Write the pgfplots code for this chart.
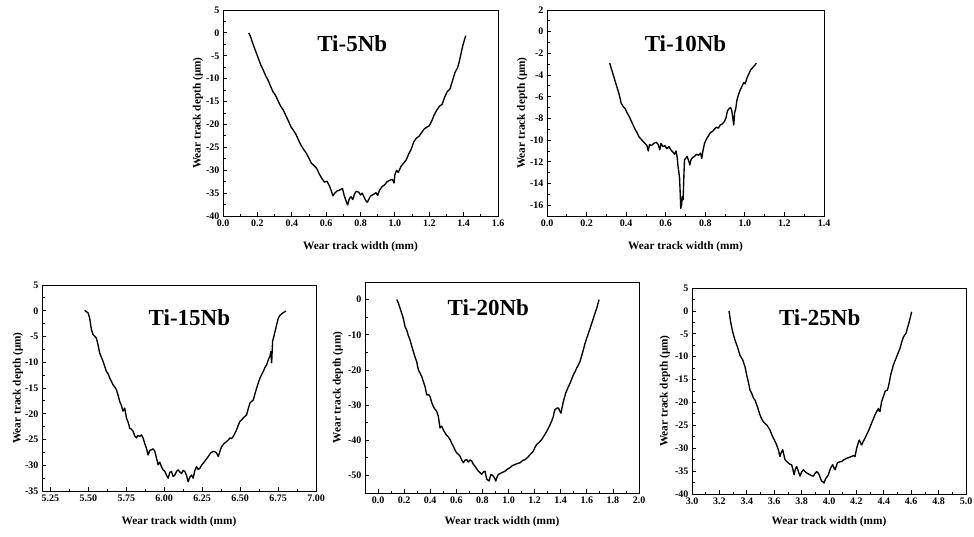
\documentclass[border=0pt]{standalone}
\usepackage{fontspec}
\setmainfont{Liberation Serif}
\usepackage{pgfplots}
\pgfplotsset{compat=1.18}

\pgfplotsset{
  wear/.style={
    scale only axis,
    anchor=south west,
    axis line style={line width=1pt},
    tick pos=left,
    tick align=inside,
    major tick length=4pt,
    minor tick length=2.5pt,
    every tick/.style={black, line width=0.8pt},
    minor tick num=1,
    tick label style={font=\fontsize{10}{11}\selectfont\bfseries},
    /pgf/number format/assume math mode=true,
    yticklabel style={/pgf/number format/fixed},
    xticklabel style={/pgf/number format/fixed, /pgf/number format/fixed zerofill, /pgf/number format/precision=1},
    label style={font=\fontsize{11.3}{12}\selectfont\bfseries},
    xlabel={Wear track width (mm)},
    ylabel={Wear track depth (μm)},
    xlabel style={at={(axis description cs:0.5,0)}, anchor=center, yshift=-31pt},
    every axis plot post/.append style={black, line width=1.35pt, line join=round, mark=none},
  },
}
\tikzset{ttl/.style={font=\fontsize{23}{24}\selectfont\bfseries}}

\begin{document}
\begin{tikzpicture}
\useasboundingbox (0,0) rectangle (974pt,-536pt);

% Ti-5Nb
\begin{axis}[wear, at={(223pt,-216pt)}, width=275pt, height=206pt,
  xmin=0, xmax=1.6, ymin=-40, ymax=5,
  xtick={0,0.2,...,1.6}, ytick={-40,-35,...,5},
  ylabel style={at={(axis description cs:-0.091,0.5)}, anchor=center}]
\addplot coordinates {
(0.150,0.0) (0.160,-0.8) (0.175,-2.5) (0.190,-4.0) (0.205,-5.5) (0.220,-7.0)
(0.235,-8.2) (0.250,-9.5) (0.262,-10.3) (0.275,-11.5) (0.290,-12.8) (0.305,-13.6)
(0.320,-14.8) (0.335,-16.0) (0.350,-16.8) (0.365,-18.0) (0.380,-19.2) (0.395,-20.5)
(0.410,-21.3) (0.425,-22.2) (0.440,-23.5) (0.455,-24.6) (0.470,-25.5) (0.485,-26.3)
(0.500,-27.4) (0.515,-28.5) (0.530,-29.0) (0.545,-29.6) (0.560,-30.8) (0.575,-31.8)
(0.590,-32.6) (0.605,-32.4) (0.620,-33.5) (0.630,-34.5) (0.640,-35.6) (0.650,-35.0)
(0.665,-34.5) (0.680,-34.3) (0.695,-34.0) (0.705,-35.5) (0.715,-36.6) (0.725,-37.6)
(0.735,-36.2) (0.745,-35.8) (0.755,-36.4) (0.765,-35.2) (0.775,-34.6) (0.790,-34.8)
(0.800,-35.4) (0.810,-35.0) (0.820,-35.8) (0.830,-36.6) (0.840,-37.0) (0.850,-36.2)
(0.860,-35.6) (0.875,-35.3) (0.890,-34.9) (0.900,-35.5) (0.910,-34.4) (0.925,-33.6)
(0.940,-33.2) (0.955,-32.5) (0.970,-32.2) (0.985,-32.0) (0.995,-32.8) (1.000,-31.0)
(1.010,-30.0) (1.020,-30.5) (1.035,-29.2) (1.050,-28.5) (1.065,-27.8) (1.080,-26.5)
(1.095,-25.4) (1.110,-23.8) (1.125,-23.0) (1.140,-22.6) (1.155,-21.8) (1.170,-21.0)
(1.185,-20.6) (1.200,-20.3) (1.215,-19.2) (1.230,-17.8) (1.245,-16.8) (1.260,-16.0)
(1.275,-15.6) (1.290,-14.0) (1.305,-12.8) (1.320,-12.3) (1.335,-10.5) (1.350,-8.6)
(1.365,-7.6) (1.375,-6.2) (1.385,-4.5) (1.395,-2.8) (1.405,-1.5) (1.412,-0.6)
};
\node[ttl] at (rel axis cs:0.47,0.836) {Ti-5Nb};
\end{axis}

% Ti-10Nb
\begin{axis}[wear, at={(547pt,-216pt)}, width=277pt, height=206pt,
  xmin=0, xmax=1.4, ymin=-17, ymax=2,
  xtick={0,0.2,...,1.4}, ytick={-16,-14,...,2},
  ylabel style={at={(axis description cs:-0.09,0.5)}, anchor=center}]
\addplot coordinates {
(0.317,-2.9) (0.325,-3.4) (0.335,-4.0) (0.345,-4.6) (0.355,-5.2) (0.365,-5.8)
(0.375,-6.6) (0.385,-6.9) (0.395,-7.1) (0.405,-7.5) (0.415,-7.8) (0.425,-8.2)
(0.435,-8.6) (0.445,-9.0) (0.455,-9.3) (0.465,-9.7) (0.475,-9.9) (0.485,-10.1)
(0.495,-10.3) (0.505,-10.5) (0.512,-11.0) (0.518,-10.4) (0.528,-10.5) (0.540,-10.3)
(0.552,-10.2) (0.562,-10.4) (0.570,-10.9) (0.576,-10.3) (0.586,-10.6) (0.596,-10.5)
(0.606,-10.8) (0.616,-10.6) (0.626,-10.9) (0.636,-11.1) (0.645,-11.3) (0.652,-11.0)
(0.658,-11.6) (0.662,-12.4) (0.666,-12.9) (0.670,-13.5) (0.673,-14.8) (0.676,-16.3)
(0.680,-16.0) (0.684,-15.2) (0.688,-15.5) (0.692,-13.2) (0.695,-11.8) (0.700,-11.7)
(0.708,-11.5) (0.716,-11.9) (0.722,-12.3) (0.728,-11.8) (0.736,-11.6) (0.746,-11.5)
(0.756,-11.3) (0.766,-11.4) (0.776,-11.2) (0.782,-11.7) (0.788,-11.0) (0.796,-10.3)
(0.806,-9.9) (0.816,-9.6) (0.826,-9.3) (0.836,-9.2) (0.846,-9.0) (0.856,-8.8)
(0.866,-8.9) (0.876,-8.6) (0.886,-8.5) (0.896,-8.3) (0.904,-8.0) (0.912,-7.3)
(0.920,-7.1) (0.928,-7.0) (0.934,-7.3) (0.940,-8.1) (0.944,-8.6) (0.948,-7.5)
(0.954,-7.1) (0.960,-6.3) (0.968,-5.8) (0.976,-5.4) (0.986,-5.0) (0.994,-4.7)
(1.002,-4.8) (1.010,-4.3) (1.020,-3.9) (1.030,-3.5) (1.040,-3.3) (1.050,-3.1)
(1.058,-2.9)
};
\node[ttl] at (rel axis cs:0.50,0.836) {Ti-10Nb};
\end{axis}

% Ti-15Nb
\begin{axis}[wear, at={(42pt,-491pt)}, width=274pt, height=206pt,
  xmin=5.195, xmax=7.0, ymin=-35, ymax=5,
  xtick={5.25,5.5,5.75,6.0,6.25,6.5,6.75,7.0}, ytick={-35,-30,...,5},
  xticklabel style={/pgf/number format/precision=2},
  ylabel style={at={(axis description cs:-0.088,0.5)}, anchor=center}]
\addplot coordinates {
(5.476,0.06) (5.498,-0.4) (5.509,-1.4) (5.520,-3.6) (5.531,-4.6) (5.553,-5.3)
(5.564,-6.6) (5.575,-8.2) (5.597,-9.8) (5.619,-11.75) (5.630,-12.2) (5.641,-13.05)
(5.663,-14.35) (5.685,-15.3) (5.696,-16.4) (5.707,-17.6) (5.718,-18.4) (5.729,-19.5)
(5.740,-18.9) (5.751,-20.8) (5.762,-21.6) (5.773,-22.8) (5.784,-23.0) (5.795,-23.4)
(5.806,-24.3) (5.817,-24.7) (5.828,-24.2) (5.839,-24.4) (5.850,-24.1) (5.861,-24.7)
(5.872,-25.8) (5.883,-26.7) (5.894,-28.0) (5.905,-27.1) (5.916,-27.0) (5.927,-26.8)
(5.938,-27.3) (5.949,-28.6) (5.960,-29.9) (5.971,-29.4) (5.982,-30.3) (5.993,-30.9)
(6.004,-31.2) (6.015,-31.9) (6.026,-32.5) (6.037,-31.4) (6.048,-31.2) (6.059,-32.2)
(6.070,-31.9) (6.081,-31.2) (6.092,-30.9) (6.103,-31.3) (6.114,-31.6) (6.125,-31.0)
(6.136,-31.2) (6.147,-32.0) (6.158,-33.2) (6.169,-32.3) (6.180,-31.9) (6.191,-32.5)
(6.202,-31.0) (6.213,-30.3) (6.224,-30.8) (6.235,-30.6) (6.246,-30.0) (6.257,-29.6)
(6.273,-29.0) (6.290,-28.3) (6.306,-27.6) (6.323,-27.3) (6.334,-27.4) (6.345,-27.6)
(6.356,-28.3) (6.367,-27.3) (6.378,-26.4) (6.394,-25.8) (6.411,-25.4) (6.422,-25.1)
(6.433,-24.7) (6.444,-24.8) (6.455,-24.4) (6.466,-23.8) (6.477,-23.1) (6.488,-22.2)
(6.499,-21.5) (6.510,-21.2) (6.521,-20.8) (6.532,-20.5) (6.543,-20.2) (6.554,-19.0)
(6.565,-17.9) (6.576,-17.6) (6.587,-17.3) (6.598,-16.1) (6.609,-15.0) (6.620,-14.0)
(6.631,-13.05) (6.642,-12.4) (6.653,-11.75) (6.664,-11.0) (6.675,-10.5) (6.686,-9.5)
(6.697,-8.8) (6.702,-7.9) (6.708,-10.1) (6.714,-5.9) (6.723,-4.9) (6.736,-3.3)
(6.752,-1.4) (6.763,-0.9) (6.774,-0.6) (6.788,-0.3) (6.802,-0.06)
};
\node[ttl] at (rel axis cs:0.538,0.84) {Ti-15Nb};
\end{axis}

% Ti-20Nb
\begin{axis}[wear, at={(365pt,-493pt)}, width=274pt, height=211pt,
  xmin=-0.1, xmax=2.0, ymin=-55, ymax=5,
  xtick={0,0.2,...,2.0}, ytick={-50,-40,...,0},
  xlabel style={yshift=2pt},
  ylabel style={at={(axis description cs:-0.099,0.5)}, anchor=center}]
\addplot coordinates {
(0.143,0.0) (0.156,-1.0) (0.169,-2.5) (0.182,-4.0) (0.194,-5.4) (0.207,-7.7)
(0.220,-8.7) (0.232,-10.2) (0.245,-11.5) (0.258,-13.2) (0.271,-14.8) (0.284,-16.4)
(0.296,-17.6) (0.309,-20.0) (0.322,-20.9) (0.335,-21.9) (0.348,-23.4) (0.360,-24.7)
(0.373,-27.1) (0.386,-27.0) (0.398,-27.5) (0.411,-29.2) (0.424,-30.4) (0.437,-31.2)
(0.450,-31.8) (0.462,-33.2) (0.475,-36.5) (0.488,-36.0) (0.500,-37.0) (0.513,-37.9)
(0.526,-38.6) (0.539,-39.1) (0.552,-39.8) (0.565,-40.9) (0.577,-41.7) (0.590,-42.8)
(0.603,-43.6) (0.616,-44.0) (0.628,-44.5) (0.641,-45.6) (0.654,-46.4) (0.666,-45.7)
(0.679,-45.5) (0.692,-46.2) (0.705,-45.6) (0.718,-45.9) (0.730,-46.8) (0.743,-47.4)
(0.756,-48.1) (0.769,-48.8) (0.782,-49.2) (0.794,-49.7) (0.807,-49.0) (0.820,-48.8)
(0.833,-51.1) (0.842,-51.3) (0.851,-51.6) (0.858,-50.6) (0.866,-49.7) (0.875,-49.9)
(0.884,-50.2) (0.893,-50.8) (0.902,-51.6) (0.912,-50.5) (0.922,-49.7) (0.935,-49.5)
(0.948,-49.2) (0.961,-49.0) (0.973,-48.8) (0.992,-48.2) (1.011,-47.8) (1.030,-47.2)
(1.050,-46.9) (1.069,-46.6) (1.088,-46.4) (1.107,-45.8) (1.126,-45.5) (1.146,-44.9)
(1.165,-44.1) (1.178,-43.6) (1.190,-43.1) (1.203,-42.0) (1.216,-41.2) (1.235,-40.6)
(1.254,-39.8) (1.273,-38.7) (1.292,-37.5) (1.305,-36.6) (1.318,-35.6) (1.331,-34.5)
(1.344,-33.2) (1.350,-32.0) (1.356,-31.3) (1.369,-30.9) (1.382,-30.8) (1.392,-31.6)
(1.402,-32.3) (1.411,-30.6) (1.420,-29.0) (1.429,-27.8) (1.438,-26.6) (1.454,-25.2)
(1.471,-23.8) (1.484,-22.6) (1.497,-21.4) (1.510,-20.5) (1.522,-19.5) (1.535,-18.6)
(1.548,-17.6) (1.557,-16.4) (1.566,-15.3) (1.576,-13.9) (1.586,-12.5) (1.599,-11.0)
(1.612,-9.6) (1.625,-8.2) (1.637,-6.8) (1.648,-5.6) (1.658,-4.4) (1.667,-3.4)
(1.676,-2.5) (1.685,-1.2) (1.694,0.0)
};
\node[ttl] at (rel axis cs:0.45,0.877) {Ti-20Nb};
\end{axis}

% Ti-25Nb
\begin{axis}[wear, at={(692pt,-494pt)}, width=274pt, height=206pt,
  xmin=3.0, xmax=5.0, ymin=-40, ymax=5,
  xtick={3.0,3.2,...,5.0}, ytick={-40,-35,...,5},
  xlabel style={yshift=3pt},
  ylabel style={at={(axis description cs:-0.099,0.5)}, anchor=center}]
\addplot coordinates {
(3.270,0.0) (3.282,-2.4) (3.297,-4.6) (3.314,-6.4) (3.331,-7.8) (3.350,-9.7)
(3.370,-10.7) (3.387,-12.2) (3.399,-14.0) (3.411,-15.5) (3.423,-17.3) (3.436,-18.0)
(3.448,-19.0) (3.460,-19.5) (3.477,-20.9) (3.496,-22.7) (3.508,-23.6) (3.521,-24.2)
(3.533,-24.6) (3.545,-24.9) (3.557,-25.4) (3.569,-26.0) (3.582,-27.0) (3.594,-27.8)
(3.606,-28.5) (3.618,-29.3) (3.630,-30.3) (3.642,-31.8) (3.652,-30.9) (3.662,-30.3)
(3.670,-31.4) (3.679,-32.5) (3.691,-32.9) (3.703,-33.2) (3.715,-33.5) (3.727,-33.6)
(3.736,-34.6) (3.745,-35.8) (3.754,-34.6) (3.764,-34.0) (3.776,-35.0) (3.788,-36.1)
(3.800,-35.2) (3.813,-34.7) (3.825,-35.1) (3.837,-35.4) (3.849,-35.6) (3.861,-35.8)
(3.873,-36.0) (3.886,-36.1) (3.898,-35.5) (3.910,-35.1) (3.920,-35.4) (3.929,-35.8)
(3.938,-36.6) (3.946,-37.2) (3.955,-37.3) (3.964,-37.6) (3.971,-37.0) (3.978,-36.5)
(3.987,-36.2) (3.995,-35.8) (4.004,-35.0) (4.012,-34.3) (4.020,-33.9) (4.027,-33.6)
(4.036,-34.3) (4.044,-34.7) (4.053,-33.9) (4.061,-33.2) (4.076,-33.0) (4.092,-32.9)
(4.110,-32.5) (4.129,-32.2) (4.147,-32.0) (4.165,-31.8) (4.178,-31.6) (4.190,-31.8)
(4.196,-30.9) (4.202,-30.0) (4.212,-29.0) (4.221,-28.2) (4.230,-28.8) (4.238,-29.3)
(4.250,-28.5) (4.263,-27.8) (4.275,-27.0) (4.287,-26.3) (4.299,-25.4) (4.311,-24.5)
(4.324,-23.6) (4.336,-22.7) (4.348,-22.0) (4.360,-21.3) (4.366,-21.8) (4.372,-22.0)
(4.378,-20.9) (4.384,-19.8) (4.397,-18.7) (4.409,-17.6) (4.418,-17.4) (4.426,-17.3)
(4.433,-16.6) (4.442,-15.3) (4.450,-14.0) (4.460,-12.9) (4.470,-11.8) (4.482,-10.9)
(4.494,-10.0) (4.506,-9.1) (4.518,-8.2) (4.530,-6.9) (4.543,-5.7) (4.552,-5.3)
(4.562,-4.9) (4.570,-4.0) (4.579,-3.1) (4.585,-2.4) (4.591,-1.7) (4.597,-1.0)
(4.603,-0.2)
};
\node[ttl] at (rel axis cs:0.466,0.854) {Ti-25Nb};
\end{axis}
\end{tikzpicture}
\end{document}
